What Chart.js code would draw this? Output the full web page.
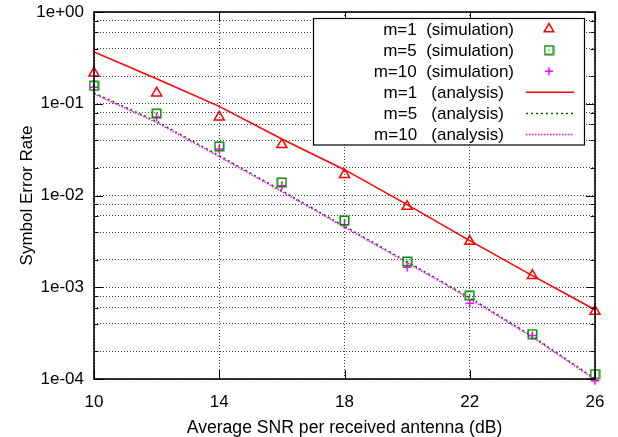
<!DOCTYPE html>
<html>
<head>
<meta charset="utf-8">
<script src="https://cdn.jsdelivr.net/npm/chart.js@4/dist/chart.umd.min.js"></script>
<style>
  html, body { margin: 0; padding: 0; background: #fff; }
  #c { display: block; }
</style>
</head>
<body>
<canvas id="c" width="618" height="437"></canvas>
<script>
// ---- data ----
const snr = [10, 12, 14, 16, 18, 20, 22, 24, 26];
const simM1  = [0.216, 0.131, 0.0717, 0.0358, 0.0169, 0.0076, 0.00316, 0.00134, 0.000546];
const simM5  = [0.157, 0.078, 0.0343, 0.0139, 0.00535, 0.00191, 0.00081, 0.000309, 0.000113];
const simM10 = [0.151, 0.0717, 0.0321, 0.0128, 0.0048, 0.00165, 0.00067, 0.000297, 0.000096];
const anaM1  = [0.366, 0.1875, 0.0936, 0.0413, 0.0191, 0.00794, 0.00322, 0.001337, 0.000569];
const anaM5  = [0.131, 0.0642, 0.0272, 0.01128, 0.00463, 0.0019, 0.000769, 0.000293, 0.0001007];
const anaM10 = [0.128, 0.0625, 0.0265, 0.0110, 0.00452, 0.00185, 0.000750, 0.000286, 0.0000985];
const seriesLabels = ['m=1  (simulation)', 'm=5  (simulation)', 'm=10  (simulation)',
                      'm=1   (analysis)', 'm=5   (analysis)', 'm=10   (analysis)'];
const xTicks = [10, 14, 18, 22, 26];
const yMajorTicks = [1e-4, 1e-3, 1e-2, 1e-1, 1];
const yTickLabels = ['1e-04', '1e-03', '1e-02', '1e-01', '1e+00'];
const yMinorMultipliers = [2, 4, 6, 8];
const xTitle = 'Average SNR per received antenna (dB)';
const yTitle = 'Symbol Error Rate';

// ---- styling ----
const FONT = '"Liberation Sans", Arial, Helvetica, sans-serif';
const RED = '#ff0000', GREEN = '#008c00', DGREEN = '#006400', MAG = '#ff00ff';

function boxDotImage(color) {
  const c = document.createElement('canvas');
  c.width = 11; c.height = 11;
  const g = c.getContext('2d');
  g.strokeStyle = color; g.lineWidth = 1.5;
  g.strokeRect(1.25, 1.25, 8.5, 8.5);
  g.fillStyle = color;
  g.fillRect(4.75, 4.75, 1.5, 1.5);
  return c;
}
const boxImg = boxDotImage(GREEN);

const pts = arr => snr.map((x, i) => ({x: x, y: arr[i]}));

const yTickValues = [];
for (let k = 0; k < yMajorTicks.length; k++) {
  yTickValues.push(yMajorTicks[k]);
  if (k < yMajorTicks.length - 1) yMinorMultipliers.forEach(m => yTickValues.push(yMajorTicks[k] * m));
}

function labelFor(v) {
  for (let i = 0; i < yMajorTicks.length; i++) {
    if (Math.abs(Math.log10(v) - Math.log10(yMajorTicks[i])) < 1e-6) return yTickLabels[i];
  }
  return '';
}
function isMajor(v) { return labelFor(v) !== ''; }

const framePlugin = {
  id: 'frame',
  afterDatasetsDraw(chart) {
    const {ctx, chartArea: a, scales} = chart;
    ctx.save();
    ctx.strokeStyle = '#000';
    ctx.lineWidth = 1;
    yTickValues.forEach(v => {
      const y = Math.round(scales.y.getPixelForValue(v)) + 0.5;
      const len = isMajor(v) ? 9 : 4.5;
      ctx.beginPath();
      ctx.moveTo(a.left, y); ctx.lineTo(a.left + len, y);
      ctx.moveTo(a.right, y); ctx.lineTo(a.right - len, y);
      ctx.stroke();
    });
    xTicks.forEach(v => {
      const x = Math.round(scales.x.getPixelForValue(v)) + 0.5;
      ctx.beginPath();
      ctx.moveTo(x, a.bottom); ctx.lineTo(x, a.bottom - 9);
      ctx.moveTo(x, a.top); ctx.lineTo(x, a.top + 9);
      ctx.stroke();
    });
    ctx.lineWidth = 1.6;
    ctx.strokeRect(a.left, a.top, a.right - a.left, a.bottom - a.top);
    ctx.restore();
  }
};

const legendPlugin = {
  id: 'gpLegend',
  afterDraw(chart) {
    const ctx = chart.ctx;
    const bx = 313, by = 18, bw = 271, bh = 126.5;
    ctx.save();
    ctx.fillStyle = '#fff';
    ctx.fillRect(bx, by, bw, bh);
    ctx.strokeStyle = '#000';
    ctx.lineWidth = 1.2;
    ctx.strokeRect(bx + 0.5, by + 0.5, bw, bh);
    ctx.font = '17px ' + FONT;
    ctx.textAlign = 'right';
    ctx.textBaseline = 'middle';
    chart.data.datasets.forEach((ds, i) => {
      const y = 29 + i * 21.1;
      ctx.fillStyle = '#000';
      ctx.fillText(ds.label, i < 3 ? 514 : 504, y + 1);
      const mx = 549;
      ctx.strokeStyle = ds.borderColor;
      if (i === 0) {
        const r = 5.6;
        ctx.lineWidth = 1.5;
        ctx.beginPath();
        ctx.moveTo(mx, y - r);
        ctx.lineTo(mx + r * 0.866, y + r * 0.5);
        ctx.lineTo(mx - r * 0.866, y + r * 0.5);
        ctx.closePath();
        ctx.stroke();
      } else if (i === 1) {
        ctx.drawImage(boxImg, mx - 5.5, y - 5.5);
      } else if (i === 2) {
        ctx.lineWidth = 1.5;
        ctx.beginPath();
        ctx.moveTo(mx - 4, y); ctx.lineTo(mx + 4, y);
        ctx.moveTo(mx, y - 4); ctx.lineTo(mx, y + 4);
        ctx.stroke();
      } else {
        ctx.lineWidth = ds.borderWidth;
        ctx.setLineDash(ds.borderDash || []);
        ctx.beginPath();
        ctx.moveTo(526, y); ctx.lineTo(574, y);
        ctx.stroke();
        ctx.setLineDash([]);
      }
    });
    ctx.restore();
  }
};

new Chart(document.getElementById('c'), {
  type: 'line',
  data: {
    datasets: [
      { label: seriesLabels[0], data: pts(simM1), showLine: false, borderColor: RED, backgroundColor: 'rgba(0,0,0,0)',
        pointStyle: 'triangle', pointRadius: 5.8, pointBorderWidth: 1.5, clip: false, order: 1 },
      { label: seriesLabels[1], data: pts(simM5), showLine: false, borderColor: GREEN, backgroundColor: 'rgba(0,0,0,0)',
        pointStyle: boxImg, pointRadius: 5.5, clip: false, order: 1 },
      { label: seriesLabels[2], data: pts(simM10), showLine: false, borderColor: MAG, backgroundColor: MAG,
        pointStyle: 'cross', pointRadius: 4.2, pointBorderWidth: 1.5, clip: false, order: 1 },
      { label: seriesLabels[3], data: pts(anaM1), borderColor: RED, borderWidth: 1.5, pointRadius: 0,
        tension: 0, fill: false, order: 2 },
      { label: seriesLabels[4], data: pts(anaM5), borderColor: DGREEN, borderWidth: 1.5, borderDash: [2, 3], pointRadius: 0,
        tension: 0, fill: false, order: 3 },
      { label: seriesLabels[5], data: pts(anaM10), borderColor: MAG, borderWidth: 1.5, borderDash: [1.5, 1.5], pointRadius: 0,
        tension: 0, fill: false, order: 2 }
    ]
  },
  options: {
    responsive: false,
    animation: false,
    devicePixelRatio: 1,
    layout: { padding: { left: 0, top: 12, right: 23, bottom: 0 } },
    plugins: { legend: { display: false }, tooltip: { enabled: false } },
    scales: {
      x: {
        type: 'linear', min: 10, max: 26,
        afterBuildTicks: s => { s.ticks = xTicks.map(v => ({value: v})); },
        afterFit: s => { s.height = 58; s.paddingLeft = 0; s.paddingRight = 0; },
        ticks: { color: '#000', font: { family: FONT, size: 17 }, padding: 13, maxRotation: 0, autoSkip: false,
                 callback: v => String(v) },
        grid: { color: 'rgba(0,0,0,0.75)', lineWidth: 1, drawTicks: false },
        border: { display: false, dash: [1, 2] },
        title: { display: true, text: xTitle, color: '#000', font: { family: FONT, size: 17.6, lineHeight: 1.0 }, padding: { top: 7, bottom: 0 } }
      },
      y: {
        type: 'logarithmic', min: 1e-4, max: 1,
        afterBuildTicks: s => { s.ticks = yTickValues.map(v => ({value: v})); },
        afterFit: s => { s.width = 94; s.paddingTop = 0; s.paddingBottom = 0; },
        ticks: { color: '#000', font: { family: FONT, size: 17 }, padding: 10, autoSkip: false,
                 callback: v => labelFor(v) },
        grid: { color: 'rgba(0,0,0,0.75)', lineWidth: 1, drawTicks: false },
        border: { display: false, dash: [1, 2] },
        title: { display: true, text: yTitle, color: '#000', font: { family: FONT, size: 17 }, padding: { top: 17, bottom: 0 } }
      }
    }
  },
  plugins: [framePlugin, legendPlugin]
});
</script>
</body>
</html>
